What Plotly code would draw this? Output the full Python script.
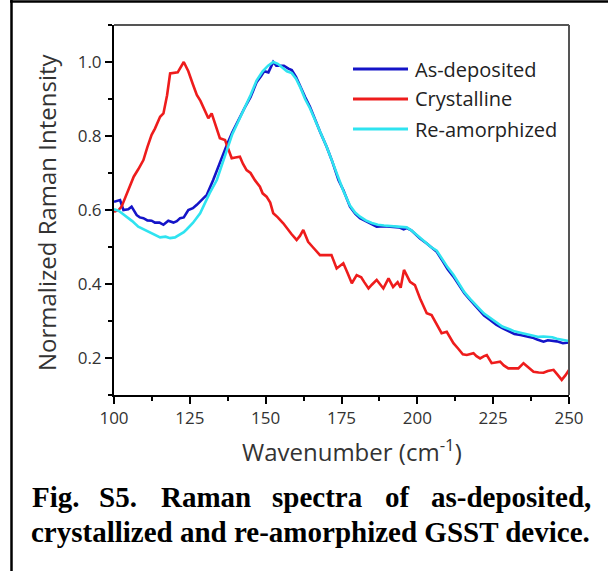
import plotly.graph_objects as go

# ---------------- data ----------------
wn_dep = [100, 101, 102, 103.1, 104.7, 105.8, 107.5, 108.5, 109.7, 111, 112.4, 113.5, 115, 116.3,
          117.9, 119.6, 120.7, 121.8, 123, 124.5, 126, 127.3, 129, 130.6, 132.7, 134.5, 136, 137.2,
          139, 141.5, 143, 145, 147, 148.5, 149.5, 150.9, 152.5, 153.5, 154.7, 156, 157.5, 158.6,
          160, 161.5, 163, 164.6, 166, 168, 170.1, 172, 174, 175.6, 177.8, 179.5, 181.1, 183, 185,
          186.6, 189, 192.1, 194, 195.5, 196.5, 198, 200.9, 203, 204.5, 206.4, 208.5, 210, 211.9,
          214, 215.5, 217.4, 219, 220.5, 222, 224, 226, 228, 230.6, 232, 234, 236.1, 238, 239.5,
          241.6, 243, 244.5, 246, 248, 250]
int_dep = [0.622, 0.625, 0.627, 0.600, 0.602, 0.609, 0.586, 0.580, 0.578, 0.572, 0.571, 0.566, 0.566, 0.560,
           0.571, 0.566, 0.570, 0.578, 0.580, 0.600, 0.605, 0.614, 0.627, 0.641, 0.681, 0.720, 0.750, 0.776,
           0.810, 0.852, 0.875, 0.905, 0.945, 0.962, 0.975, 0.972, 1.000, 0.990, 0.990, 0.990, 0.982, 0.978,
           0.960, 0.930, 0.905, 0.879, 0.850, 0.810, 0.771, 0.730, 0.681, 0.654, 0.609, 0.590, 0.578, 0.570, 0.560,
           0.555, 0.556, 0.555, 0.553, 0.548, 0.551, 0.545, 0.523, 0.510, 0.500, 0.487, 0.460, 0.440, 0.420,
           0.392, 0.375, 0.357, 0.342, 0.330, 0.315, 0.303, 0.290, 0.281, 0.271, 0.265, 0.262, 0.258, 0.255, 0.250,
           0.244, 0.248, 0.246, 0.245, 0.240, 0.242]

wn_cry = [100, 101.5, 102.5, 103.6, 105, 106.5, 108, 109.7, 111, 112.4, 113.5, 115.2, 116.3, 117.5, 118.5,
          120, 121, 123, 124.5, 126, 127.3, 128.5, 130, 131.1, 132.2, 133.5, 134.9, 136.6, 138, 138.8, 140,
          141.5, 142.5, 143.7, 145, 146.5, 148.1, 149, 150.3, 151.5, 152.5, 154, 155.8, 157, 158.5, 160.2,
          161.3, 162.4, 164, 165.5, 167, 167.9, 170, 171.7, 173.4, 174.5, 175.6, 177, 178.4, 180, 181.5,
          182.5, 183.9, 185, 186.6, 188.8, 190.5, 192, 193.5, 194.5, 195.6, 197.6, 199.2, 200.9, 202, 203.1,
          204.7, 206.5, 208, 209.7, 211.9, 213.5, 215, 216.3, 217.5, 218.5, 219.5, 220.7, 222, 222.9, 224.5,
          226, 227.3, 228.5, 230, 231.7, 233.3, 235, 236.5, 238.3, 240, 241.6, 243, 244.9, 246.2, 247.6,
          248.8, 250]
int_cry = [0.595, 0.600, 0.609, 0.632, 0.660, 0.690, 0.710, 0.735, 0.770, 0.803, 0.820, 0.852, 0.861, 0.910, 0.969,
           0.971, 0.972, 1.000, 0.975, 0.940, 0.911, 0.895, 0.870, 0.848, 0.861, 0.830, 0.794, 0.789, 0.760, 0.740, 0.742,
           0.744, 0.725, 0.708, 0.700, 0.680, 0.663, 0.645, 0.636, 0.620, 0.591, 0.580, 0.564, 0.550, 0.535, 0.519,
           0.530, 0.546, 0.514, 0.500, 0.485, 0.478, 0.478, 0.478, 0.442, 0.450, 0.456, 0.430, 0.402, 0.424, 0.418,
           0.405, 0.388, 0.398, 0.411, 0.388, 0.415, 0.392, 0.405, 0.390, 0.438, 0.406, 0.397, 0.361, 0.340, 0.321,
           0.316, 0.290, 0.267, 0.271, 0.240, 0.225, 0.210, 0.208, 0.210, 0.213, 0.205, 0.199, 0.205, 0.208, 0.186,
           0.188, 0.190, 0.180, 0.172, 0.172, 0.172, 0.186, 0.175, 0.163, 0.161, 0.160, 0.165, 0.168, 0.155, 0.141,
           0.153, 0.168]

wn_ream = [100, 101.5, 102.5, 104.2, 106, 108, 109.7, 111.5, 113, 115.2, 117, 118.5, 120.1, 121.5, 123, 124,
           126, 128.4, 130, 131.5, 133.9, 136, 137.5, 139, 141, 143, 145, 147, 149, 150.8, 152.5, 154, 155.5,
           157, 158.6, 160, 161.5, 163, 164.6, 166.5, 168, 170.1, 172, 174, 175.6, 177.8, 179.5, 181.1, 183,
           185, 187, 189, 191, 193, 195, 196.5, 198, 200.9, 203, 204.5, 206.4, 208.5, 210, 211.9, 214, 215.5,
           217.4, 219, 220.5, 222, 224, 226, 228, 230.6, 232, 234, 236, 238, 240, 241.6, 243, 244.5, 246,
           248, 250]
int_ream = [0.602, 0.598, 0.592, 0.582, 0.570, 0.555, 0.548, 0.540, 0.533, 0.526, 0.528, 0.524, 0.526, 0.533, 0.540, 0.548,
            0.565, 0.591, 0.620, 0.645, 0.681, 0.730, 0.770, 0.805, 0.840, 0.875, 0.910, 0.950, 0.975, 0.990, 1.000, 0.995, 0.985,
            0.975, 0.970, 0.955, 0.930, 0.900, 0.875, 0.840, 0.810, 0.771, 0.730, 0.685, 0.652, 0.612, 0.593, 0.582, 0.572,
            0.565, 0.560, 0.558, 0.557, 0.556, 0.554, 0.553, 0.545, 0.525, 0.512, 0.500, 0.490, 0.463, 0.445, 0.425, 0.398, 0.378,
            0.360, 0.345, 0.333, 0.320, 0.308, 0.295, 0.285, 0.277, 0.272, 0.268, 0.264, 0.260, 0.257, 0.258, 0.258, 0.256, 0.252,
            0.248, 0.246]

series_names = ["As-deposited", "Crystalline", "Re-amorphized"]
series_colors = ["#1414c8", "#ee1c1c", "#2fe3f0"]
x_ticks = [100, 125, 150, 175, 200, 225, 250]
y_ticks = [0.2, 0.4, 0.6, 0.8, 1.0]

x_title = "Wavenumber (cm<sup>-1</sup>)"
y_title = "Normalized Raman Intensity"
caption_line1 = ["Fig.", "S5.", "Raman", "spectra", "of", "as-deposited,"]
caption_line2 = "crystallized and re-amorphized GSST device."

# ---------------- layout geometry (pixels) ----------------
W, H = 608, 571
L, R, T, B = 114, 569, 25, 395


def px(xp):
    return (xp - L) / (R - L)


def py(yp):
    return (B - yp) / (B - T)


SANS = "Open Sans, Lato, sans-serif"
fig = go.Figure()
xs = [wn_dep, wn_cry, wn_ream]
ys = [int_dep, int_cry, int_ream]
for name, color, x, y in zip(series_names, series_colors, xs, ys):
    fig.add_trace(go.Scatter(x=x, y=y, mode="lines", name=name,
                             line=dict(color=color, width=2.6), showlegend=False))

fig.update_layout(
    width=W, height=H,
    margin=dict(l=L, r=W - R, t=T, b=H - B),
    paper_bgcolor="white", plot_bgcolor="white",
    font=dict(family=SANS, color="#333333"),
)

axis_common = dict(showgrid=False, zeroline=False, showline=True, linewidth=2, linecolor="black",
                   ticks="outside", ticklen=7, tickwidth=2, tickcolor="black",
                   tickfont=dict(family=SANS, size=17, color="#333333"))
fig.update_xaxes(range=[100, 250], tickvals=x_ticks, ticktext=[str(v) for v in x_ticks],
                 minor=dict(tickvals=[112.5, 137.5, 162.5, 187.5, 212.5, 237.5], ticks="outside",
                            ticklen=4, tickwidth=2, tickcolor="black"),
                 **axis_common)
fig.update_yaxes(range=[0.1, 1.1], tickvals=y_ticks, ticktext=["%.1f" % v for v in y_ticks],
                 minor=dict(tickvals=[0.1, 0.3, 0.5, 0.7, 0.9, 1.1], ticks="outside",
                            ticklen=4, tickwidth=2, tickcolor="black"),
                 **axis_common)

shapes = []
# top and right frame of plot (grey)
shapes.append(dict(type="line", xref="paper", yref="paper", x0=0, x1=1, y0=1, y1=1,
                   line=dict(color="#555555", width=2)))
shapes.append(dict(type="line", xref="paper", yref="paper", x0=1, x1=1, y0=0, y1=1,
                   line=dict(color="#555555", width=2)))
# outer figure frame (top and left)
shapes.append(dict(type="line", xref="paper", yref="paper", x0=px(10), x1=px(610), y0=py(1.5), y1=py(1.5),
                   line=dict(color="black", width=2.5)))
shapes.append(dict(type="line", xref="paper", yref="paper", x0=px(11.5), x1=px(11.5), y0=py(0), y1=py(575),
                   line=dict(color="black", width=2.5)))

annotations = []
# axis titles
annotations.append(dict(xref="paper", yref="paper", x=px(352), y=py(450), text=x_title, showarrow=False,
                        xanchor="center", yanchor="middle", font=dict(family=SANS, size=24, color="#333333")))
annotations.append(dict(xref="paper", yref="paper", x=px(47), y=py(212), text=y_title, showarrow=False,
                        textangle=-90, xanchor="center", yanchor="middle",
                        font=dict(family=SANS, size=24, color="#333333")))
# manual legend
leg_rows = [69, 99, 129]
for name, color, yrow in zip(series_names, series_colors, leg_rows):
    shapes.append(dict(type="line", xref="paper", yref="paper", x0=px(353), x1=px(408), y0=py(yrow), y1=py(yrow),
                       line=dict(color=color, width=3)))
    annotations.append(dict(xref="paper", yref="paper", x=px(413), y=py(yrow), text=name, showarrow=False,
                            xanchor="left", yanchor="middle", font=dict(family=SANS, size=20, color="#222222")))

# caption (first line justified word by word)
CAP_FONT = dict(family="Liberation Serif, Times New Roman, serif", size=29, color="black")
word_x = [30, 97, 159, 270, 383, 429]
for w, xw in zip(caption_line1, word_x):
    annotations.append(dict(xref="paper", yref="paper", x=px(xw), y=py(497), text="<b>%s</b>" % w,
                            showarrow=False, xanchor="left", yanchor="middle", font=CAP_FONT))
annotations.append(dict(xref="paper", yref="paper", x=px(29), y=py(532), text="<b>%s</b>" % caption_line2,
                        showarrow=False, xanchor="left", yanchor="middle", font=CAP_FONT))

fig.update_layout(shapes=shapes, annotations=annotations)
fig.write_html("out.html")
